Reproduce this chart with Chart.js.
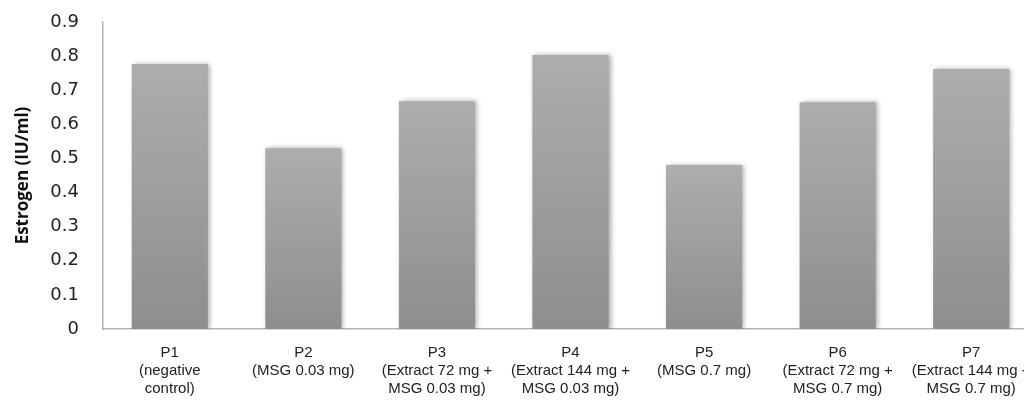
<!DOCTYPE html>
<html>
<head>
<meta charset="utf-8">
<script src="https://cdn.jsdelivr.net/npm/chart.js@4/dist/chart.umd.min.js"></script>
<style>
  html, body { margin: 0; padding: 0; background: #fff; overflow: hidden; width: 1024px; height: 404px; }
  #wrap { position: absolute; left: 0; top: 0; width: 1040px; height: 404px; }
  canvas { display: block; }
</style>
</head>
<body>
<div id="wrap"><canvas id="c" width="1040" height="404"></canvas></div>
<script>
const categories = [
  ["P1", "(negative", "control)"],
  ["P2", "(MSG 0.03 mg)"],
  ["P3", "(Extract 72 mg +", "MSG 0.03 mg)"],
  ["P4", "(Extract 144 mg +", "MSG 0.03 mg)"],
  ["P5", "(MSG 0.7 mg)"],
  ["P6", "(Extract 72 mg +", "MSG 0.7 mg)"],
  ["P7", "(Extract 144 mg +", "MSG 0.7 mg)"]
];
const estrogenValues = [0.777, 0.530, 0.668, 0.803, 0.481, 0.665, 0.762];
const yTicks = [0, 0.1, 0.2, 0.3, 0.4, 0.5, 0.6, 0.7, 0.8, 0.9];
const yAxisTitle = "Estrogen (IU/ml)";

function barGradient(context) {
  const chart = context.chart;
  const area = chart.chartArea;
  if (!area || context.type !== 'data') return '#a0a0a0';
  const ys = chart.scales.y;
  const top = ys.getPixelForValue(context.raw);
  const bottom = ys.getPixelForValue(0);
  const g = chart.ctx.createLinearGradient(0, top, 0, bottom);
  g.addColorStop(0, '#adadad');
  g.addColorStop(1, '#8e8e8e');
  return g;
}

const shadowPlugin = {
  id: 'barShadow',
  beforeDatasetDraw(chart) {
    const ctx = chart.ctx;
    ctx.save();
    ctx.shadowColor = 'rgba(0,0,0,0.35)';
    ctx.shadowBlur = 5;
    ctx.shadowOffsetX = 2;
    ctx.shadowOffsetY = 0;
  },
  afterDatasetDraw(chart) {
    chart.ctx.restore();
  }
};

function zeroPad(s) { s.paddingTop = 0; s.paddingBottom = 0; s.paddingLeft = 0; s.paddingRight = 0; }

new Chart(document.getElementById('c'), {
  type: 'bar',
  data: {
    labels: categories,
    datasets: [{
      data: estrogenValues,
      backgroundColor: barGradient,
      borderWidth: 0,
      barPercentage: 0.57,
      categoryPercentage: 1.0
    }]
  },
  plugins: [shadowPlugin],
  options: {
    responsive: false,
    maintainAspectRatio: false,
    animation: false,
    layout: { padding: { top: 22, right: 2, left: 13, bottom: 8 } },
    plugins: { legend: { display: false }, tooltip: { enabled: false } },
    scales: {
      x: {
        afterFit(s) { zeroPad(s); s.height = 67; },
        grid: { display: false, drawTicks: false },
        border: { display: true, color: '#b4b4b4', width: 1.5 },
        ticks: {
          color: '#222',
          padding: 15,
          maxRotation: 0,
          autoSkip: false,
          font: { family: "'Liberation Sans', Arial, sans-serif", size: 15, lineHeight: 1.2 }
        }
      },
      y: {
        min: 0,
        max: 0.9,
        afterBuildTicks(axis) { axis.ticks = yTicks.map(v => ({ value: v })); },
        afterFit(s) { zeroPad(s); s.width = 90; },
        grid: { display: false, drawTicks: false },
        border: { display: true, color: '#b4b4b4', width: 1.5 },
        title: {
          display: true,
          text: yAxisTitle,
          color: '#111',
          padding: { top: 0, bottom: 10 },
          font: { family: "'Open Sans', sans-serif", size: 17, weight: 'bold' }
        },
        ticks: {
          color: '#222',
          padding: 24,
          callback: (v) => String(Math.round(v * 10) / 10),
          font: { family: "'DejaVu Sans', sans-serif", size: 18 }
        }
      }
    }
  }
});
</script>
</body>
</html>
